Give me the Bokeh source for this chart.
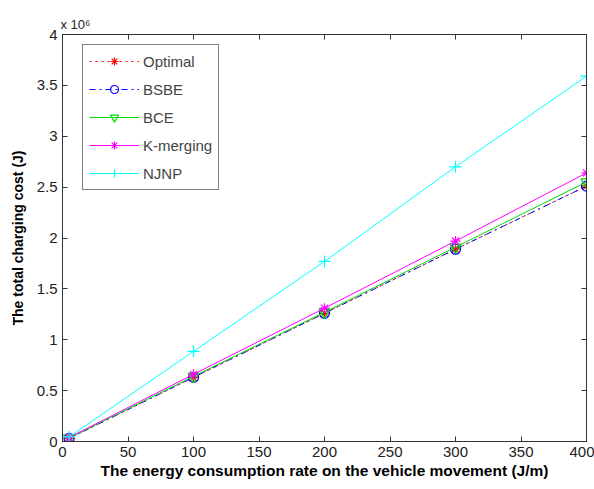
from bokeh.plotting import figure
from bokeh.models import LinearAxis, Range1d, Legend, LegendItem, FixedTicker, CustomJSTickFormatter
from bokeh.embed import file_html
from bokeh.resources import INLINE

# data (y values in units of 10^6 J)
rates = [5, 100, 200, 300, 400]
optimal = [0.03, 0.63, 1.26, 1.89, 2.51]
bsbe = [0.03, 0.63, 1.26, 1.89, 2.51]
bce = [0.035, 0.64, 1.27, 1.91, 2.55]
kmerging = [0.04, 0.66, 1.31, 1.97, 2.64]
njnp = [0.045, 0.886, 1.77, 2.70, 3.59]

x_ticks = [0, 50, 100, 150, 200, 250, 300, 350, 400]
y_ticks = [0, 0.5, 1, 1.5, 2, 2.5, 3, 3.5, 4]

FONT = "Liberation Sans"
AX = "#333333"

p = figure(width=594, height=489, output_backend="svg", toolbar_location=None,
           x_range=Range1d(0, 400), y_range=Range1d(0, 4),
           min_border_left=62, min_border_right=8, min_border_top=34, min_border_bottom=48,
           x_axis_label="The energy consumption rate on the vehicle movement (J/m)",
           y_axis_label="The total charging cost (J)",
           title="x 10\u2076")
p.title.text_font = FONT
p.title.text_font_size = "13px"
p.title.text_font_style = "normal"
p.title.text_color = "#222222"
p.title.align = "left"
p.title.offset = -2
p.title.standoff = 6

p.xgrid.visible = False
p.ygrid.visible = False
p.outline_line_color = AX
p.outline_line_width = 1
p.background_fill_color = "white"
p.border_fill_color = "white"

for ax, ticks in ((p.xaxis[0], x_ticks), (p.yaxis[0], y_ticks)):
    ax.ticker = FixedTicker(ticks=ticks)
    ax.minor_tick_line_color = None
    ax.major_tick_in = 5
    ax.major_tick_out = 0
    ax.axis_line_color = AX
    ax.major_tick_line_color = AX
    ax.major_label_text_font = FONT
    ax.major_label_text_font_size = "15px"
    ax.major_label_text_color = "#222222"
    ax.axis_label_text_font = FONT
    ax.axis_label_text_font_style = "bold"
    ax.axis_label_text_color = "black"

p.xaxis[0].axis_label_text_font_size = "15.5px"
p.yaxis[0].axis_label_text_font_size = "14px"
p.xaxis[0].major_label_standoff = 5
p.xaxis[0].axis_label_standoff = 2
p.yaxis[0].major_label_standoff = 5
p.yaxis[0].axis_label_standoff = 8

blank = CustomJSTickFormatter(code="return ''")
for loc, ticks in (("above", x_ticks), ("right", y_ticks)):
    a = LinearAxis(ticker=FixedTicker(ticks=ticks), formatter=blank,
                   major_tick_in=5, major_tick_out=0, minor_tick_line_color=None,
                   axis_line_color=AX, major_tick_line_color=AX,
                   major_label_text_font_size="1px", major_label_standoff=0)
    p.add_layout(a, loc)

series = [
    ("Optimal", optimal, "red", "dotted", "asterisk", 10),
    ("BSBE", bsbe, "blue", "dashdot", "circle", 10),
    ("BCE", bce, "#00dd00", "solid", "inverted_triangle", 11),
    ("K-merging", kmerging, "magenta", "solid", "asterisk", 10),
    ("NJNP", njnp, "cyan", "solid", "cross", 12),
]

items = []
for name, ys, col, dash, marker, size in series:
    r1 = p.line(rates, ys, line_color=col, line_dash=dash, line_width=1)
    r2 = p.scatter(rates, ys, marker=marker, size=size, line_color=col,
                   fill_color=None, line_width=1.2)
    items.append(LegendItem(label=name, renderers=[r1, r2]))

legend = Legend(items=items, location=(20, 251))
legend.border_line_color = "black"
legend.border_line_width = 1
legend.label_text_font = FONT
legend.label_text_font_size = "15px"
legend.glyph_width = 50
legend.glyph_height = 20
legend.label_height = 20
legend.spacing = 8
legend.padding = 6
legend.margin = 0
legend.label_standoff = 4
p.add_layout(legend, "center")

open("out.html", "w").write(file_html(p, INLINE))
